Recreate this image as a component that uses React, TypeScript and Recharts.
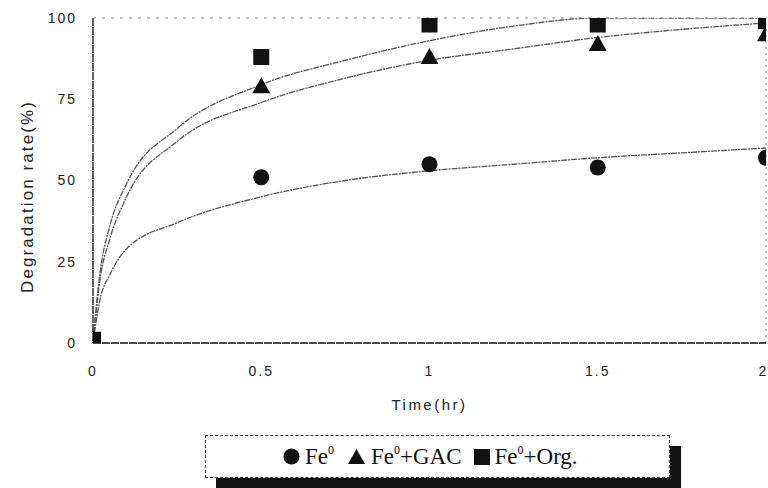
import React from 'react';
import { ComposedChart, Line, Scatter, XAxis, YAxis, ReferenceLine, Label } from 'recharts';

const xTicks = [0, 0.5, 1, 1.5, 2];
const yTicks = [0, 25, 50, 75, 100];

// measured points
const timePoints = [0, 0.5, 1, 1.5, 2];
const fe0Points = [1, 51, 55, 54, 57];
const gacPoints = [1, 79, 88, 92, 95];
const orgPoints = [1, 88, 98, 98, 99];

// fitted curves
const curveTimes = [0, 0.02, 0.05, 0.1, 0.25, 0.5, 0.75, 1, 1.25, 1.5, 1.75, 2];
const fe0Curve = [0, 13, 21, 29, 37, 45, 50, 53, 55, 57, 58.5, 60];
const gacCurve = [0, 19, 32, 45, 62, 74, 81.5, 87, 90.5, 94, 96.5, 98.5];
const orgCurve = [0, 21, 36, 49, 66, 79.5, 87, 93, 97.5, 100, 100, 100];

const toPts = (xs: number[], ys: number[]) => xs.map((x, i) => ({ x, y: ys[i] }));

const fe0PtData = toPts(timePoints, fe0Points);
const gacPtData = toPts(timePoints, gacPoints);
const orgPtData = toPts(timePoints, orgPoints);
const fe0CurveData = toPts(curveTimes, fe0Curve);
const gacCurveData = toPts(curveTimes, gacCurve);
const orgCurveData = toPts(curveTimes, orgCurve);

const INK = '#111';
const CURVE = '#555';
const axisFont = { fontFamily: 'Liberation Sans, Arial, sans-serif', fontSize: 14, fill: '#222', letterSpacing: 2 };

const CircleShape = (p: any) => <circle cx={p.cx} cy={p.cy} r={8} fill={INK} />;
const TriShape = (p: any) => (
  <polygon points={`${p.cx},${p.cy - 9} ${p.cx - 9},${p.cy + 7} ${p.cx + 9},${p.cy + 7}`} fill={INK} />
);
const SquareShape = (p: any) => <rect x={p.cx - 8} y={p.cy - 8} width={16} height={16} fill={INK} />;

const Sup = () => <sup style={{ fontSize: 12, verticalAlign: 'top', position: 'relative', top: -1 }}>0</sup>;

export default function App() {
  return (
    <div style={{ position: 'absolute', left: 0, top: 0, width: 768, height: 488, background: '#fff', overflow: 'hidden' }}>
      <ComposedChart width={768} height={488} margin={{ top: 18, right: 2, bottom: 75, left: 0 }}>
        <XAxis
          dataKey="x"
          type="number"
          domain={[0, 2]}
          ticks={xTicks}
          tickLine={false}
          tickSize={0}
          tickMargin={23}
          height={70}
          axisLine={{ stroke: INK, strokeWidth: 1.3, strokeDasharray: '8 1' }}
          tick={axisFont}
          allowDataOverflow
        >
          <Label
            content={(props: any) => {
              const vb = props.viewBox;
              return (
                <text
                  x={vb.x + vb.width / 2}
                  y={vb.y + 67}
                  textAnchor="middle"
                  style={{ fontFamily: 'Liberation Sans, Arial, sans-serif', fontSize: 15, fill: '#222', letterSpacing: 2.5 }}
                >
                  Time(hr)
                </text>
              );
            }}
          />
        </XAxis>
        <YAxis
          type="number"
          domain={[0, 100]}
          ticks={yTicks}
          width={93}
          tickLine={false}
          tickSize={0}
          tickMargin={16}
          axisLine={{ stroke: INK, strokeWidth: 1.3, strokeDasharray: '8 1' }}
          tick={axisFont}
          allowDataOverflow
        >
          <Label
            content={(props: any) => {
              const vb = props.viewBox;
              const cx = vb.x + 27;
              const cy = vb.y + vb.height / 2 + 16;
              return (
                <text
                  x={cx}
                  y={cy}
                  textAnchor="middle"
                  dominantBaseline="central"
                  transform={`rotate(-90 ${cx} ${cy})`}
                  style={{ fontFamily: 'Liberation Sans, Arial, sans-serif', fontSize: 17, fill: '#222', letterSpacing: 2.1 }}
                >
                  Degradation rate(%)
                </text>
              );
            }}
          />
        </YAxis>
        <ReferenceLine y={100} stroke="#888" strokeDasharray="3 6" strokeWidth={1} />
        <ReferenceLine x={2} stroke="#888" strokeDasharray="2 4" strokeWidth={1} />
        <Line data={fe0CurveData} dataKey="y" type="monotone" stroke={CURVE} strokeWidth={1.3} strokeDasharray="6 1 2 1" dot={false} isAnimationActive={false} />
        <Line data={gacCurveData} dataKey="y" type="monotone" stroke={CURVE} strokeWidth={1.3} strokeDasharray="6 1 2 1" dot={false} isAnimationActive={false} />
        <Line data={orgCurveData} dataKey="y" type="monotone" stroke={CURVE} strokeWidth={1.3} strokeDasharray="6 1 2 1" dot={false} isAnimationActive={false} />
        <Scatter data={fe0PtData} dataKey="y" shape={CircleShape} isAnimationActive={false} />
        <Scatter data={gacPtData} dataKey="y" shape={TriShape} isAnimationActive={false} />
        <Scatter data={orgPtData} dataKey="y" shape={SquareShape} isAnimationActive={false} />
      </ComposedChart>
      <div
        style={{
          position: 'absolute',
          left: 205,
          top: 435,
          width: 465,
          height: 43,
          boxSizing: 'border-box',
          border: '1px dashed #222',
          background: '#fff',
          boxShadow: '11px 11px 0 #111',
          display: 'flex',
          alignItems: 'center',
          justifyContent: 'flex-start',
          paddingLeft: 77,
          fontFamily: 'Liberation Serif, Times New Roman, serif',
          fontSize: 23,
          color: '#111',
          whiteSpace: 'nowrap',
        }}
      >
        <svg width={17} height={17} style={{ marginRight: 5 }}><circle cx={8.5} cy={8.5} r={8} fill={INK} /></svg>
        <span>Fe<Sup /></span>
        <svg width={19} height={17} style={{ marginLeft: 13, marginRight: 5 }}><polygon points="9.5,1 1,16 18,16" fill={INK} /></svg>
        <span>Fe<Sup />+GAC</span>
        <svg width={16} height={16} style={{ marginLeft: 12, marginRight: 5 }}><rect x={0} y={0} width={16} height={16} fill={INK} /></svg>
        <span>Fe<Sup />+Org.</span>
      </div>
    </div>
  );
}
